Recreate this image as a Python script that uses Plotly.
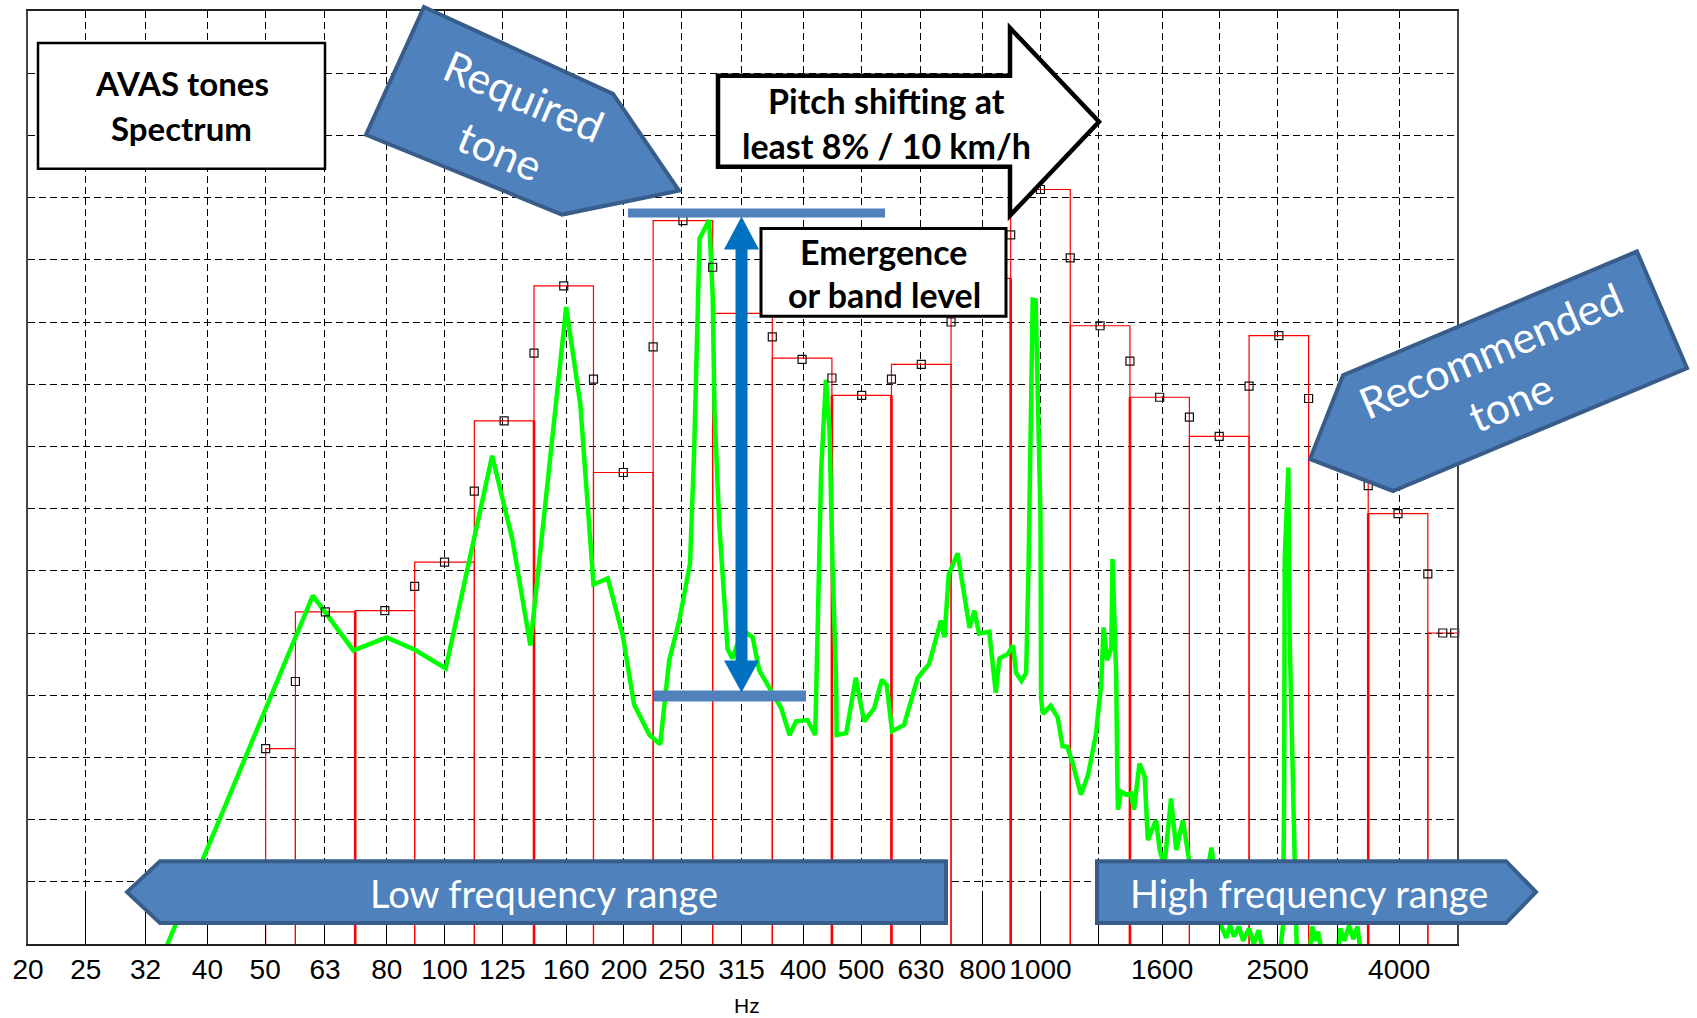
import plotly.graph_objects as go

# ---------------- data ----------------
tick_vals = [20, 25, 31.5, 40, 50, 63, 80, 100, 125, 160, 200, 250, 315, 400, 500,
             630, 800, 1000, 1250, 1600, 2000, 2500, 3150, 4000, 5000]
tick_text = ["20", "25", "32", "40", "50", "63", "80", "100", "125", "160", "200", "250",
             "315", "400", "500", "630", "800", "1000", "", "1600", "", "2500", "", "4000", ""]

# third-octave band outlines (lower edge, upper edge, level in grid units)
band_lo = [50.1, 56.2, 70.8, 89.1, 112.2, 141.3, 177.8, 223.9, 281.8, 354.8, 446.7,
           562.3, 707.9, 891.3, 1122, 1413, 1778, 2239, 2818, 3548, 4467]
band_hi = [56.2, 70.8, 89.1, 112.2, 141.3, 177.8, 223.9, 281.8, 354.8, 446.7, 562.3,
           707.9, 891.3, 1122, 1413, 1778, 2239, 2818, 3548, 4467, 5300]
band_level = [3.14, 5.34, 5.36, 6.14, 8.41, 10.58, 7.58, 11.63, 10.14, 9.42, 8.82,
              9.32, 10.7, 12.13, 9.94, 8.79, 8.16, 9.78, 7.8, 6.92, 5.0]
thick_edges = [70.8, 141.3, 446.7, 562.3, 891.3, 1413, 3548]

# sixth-octave square markers
mark_f = [50.1, 56.2, 63.1, 79.4, 89.1, 100, 112.2, 125.9, 141.3, 158.5, 177.8, 199.5,
          223.9, 251.2, 281.8, 316.2, 354.8, 398.1, 446.7, 501.2, 562.3, 631, 707.9,
          794.3, 891.3, 1000, 1122, 1259, 1413, 1585, 1778, 1995, 2239, 2512, 2818,
          3162, 3548, 3981, 4467, 4732, 4955]
mark_v = [3.14, 4.22, 5.34, 5.36, 5.75, 6.14, 7.28, 8.41, 9.5, 10.58, 9.08, 7.58,
          9.6, 11.63, 10.88, 10.14, 9.76, 9.4, 9.1, 8.82, 9.08, 9.32, 10.0,
          10.7, 11.4, 12.13, 11.03, 9.94, 9.37, 8.79, 8.47, 8.16, 8.97, 9.78, 8.77,
          7.8, 7.37, 6.92, 5.95, 5.0, 5.0]

# narrow-band AVAS spectrum (green)
spec_f = [33.11, 60.12, 70.3, 79.98, 89.13, 100.46, 120.2, 130.0, 139.3, 160.0, 169.0,
          177.8, 187.9, 199.1, 208.0, 220.8, 230.1, 238.2, 247.7, 258.2, 262.4, 267.9,
          278.0, 281.8, 283.8, 289.1, 298.5, 304.1, 316.2, 328.9, 337.3, 353.2, 367.3,
          379.3, 389.0, 406.4, 418.8, 422.7, 428.5, 436.5, 442.6, 447.7, 453.9, 455.0,
          472.1, 489.8, 505.8, 526.0, 542.0, 552.1, 563.6, 590.2, 622.3, 650.1, 680.8,
          690.2, 701.5, 726.1, 760.3, 774.5, 788.9, 820.4, 841.4, 853.1, 881.0, 899.5,
          909.9, 929.0, 946.2, 955.0, 959.4, 966.1, 970.5, 981.7, 986.3, 993.1, 1000,
          1002.3, 1009.3, 1040, 1069, 1089, 1109, 1130, 1169, 1202, 1239, 1265, 1276,
          1294, 1315, 1321, 1330, 1340, 1346, 1349, 1365, 1393, 1419, 1435, 1466, 1496,
          1514, 1563, 1585, 1614, 1656, 1690, 1734, 1766, 1799, 1841, 1884, 1936, 1963,
          1995, 2018, 2051, 2080, 2113, 2153, 2188, 2239, 2280, 2323, 2371, 2512, 2553,
          2564, 2570, 2606, 2618, 2636, 2655, 2673, 2692, 2818, 2858, 2897, 2924, 2985,
          3148, 3184, 3236, 3296, 3350, 3404, 3451, 3548]
spec_v = [-0.35, 5.6, 4.72, 4.93, 4.73, 4.43, 7.85, 6.5, 4.8, 10.24, 8.67,
          5.78, 5.88, 4.96, 3.85, 3.36, 3.21, 4.56, 5.2, 6.12, 7.96, 11.34,
          11.64, 10.42, 8.58, 6.74, 4.74, 4.59, 5.05, 4.93, 4.4, 4.07, 3.79,
          3.36, 3.58, 3.6, 3.36, 5.02, 7.6, 9.07, 8.27, 6.12, 4.28, 3.36,
          3.39, 4.28, 3.58, 3.79, 4.25, 4.16, 3.42, 3.52, 4.28, 4.5, 5.2,
          4.93, 5.94, 6.28, 5.08, 5.36, 4.99, 5.02, 4.04, 4.59, 4.66, 4.8,
          4.36, 4.23, 4.36, 6.09, 7.69, 9.02, 10.36, 10.35, 9.42, 7.95, 6.89,
          3.96, 3.7, 3.83, 3.64, 3.18, 3.17, 2.94, 2.4, 2.72, 3.37, 4.2, 5.09,
          4.56, 4.76, 6.19, 5.23, 4.3, 2.58, 2.16, 2.45, 2.4, 2.42, 2.16, 2.9, 2.69,
          1.67, 1.99, 1.51, 1.25, 2.34, 1.51, 1.99, 1.46, 1.0, 0.6, 0.9, 1.55, 1.1,
          0.4, 0.25, 0.1, 0.3, 0.12, 0.28, 0.05, 0.25, 0.0, 0.22, -0.2, -0.3, 0.3,
          2.5, 6.2, 7.66, 5.0, 3.5, 2.6, 1.2, -0.1, -0.3, 0.28, 0.05, 0.2, -0.3,
          -0.2, 0.25, 0.05, 0.3, 0.08, 0.28, -0.2, -0.4]

# ---------------- layout helpers (pixel -> paper) ----------------
W, H = 1697, 1018
L, R, T, B = 28, 240, 9, 74
PW, PH = W - L - R, H - T - B


def px(x):
    return (x - L) / PW


def py(y):
    return (H - B - y) / PH


def path(points):
    s = "M " + " L ".join(f"{px(x):.5f},{py(y):.5f}" for x, y in points) + " Z"
    return s


fig = go.Figure()

# red band outlines
rx, ry = [], []
for lo, hi, lv in zip(band_lo, band_hi, band_level):
    rx += [lo, lo, hi, hi, None]
    ry += [-1, lv, lv, -1, None]
fig.add_trace(go.Scatter(x=rx, y=ry, mode="lines", line=dict(color="#ff0000", width=1.2),
                         hoverinfo="skip", showlegend=False))

tx, ty = [], []
for e in thick_edges:
    i = band_hi.index(e)
    top = min(band_level[i], band_level[i + 1])
    tx += [e, e, None]
    ty += [-1, top, None]
fig.add_trace(go.Scatter(x=tx, y=ty, mode="lines", line=dict(color="#ff0000", width=2.6),
                         hoverinfo="skip", showlegend=False))

# green spectrum
fig.add_trace(go.Scatter(x=spec_f, y=spec_v, mode="lines",
                         line=dict(color="#00ff00", width=4.5),
                         hoverinfo="skip", showlegend=False))

# square markers
fig.add_trace(go.Scatter(x=mark_f, y=mark_v, mode="markers",
                         marker=dict(symbol="square-open", size=8, color="#111111",
                                     line=dict(width=1.2)),
                         hoverinfo="skip", showlegend=False, cliponaxis=False))

BLUE = "#4F81BD"
BLUE_EDGE = "#385D8A"
shapes = []

# AVAS box
shapes.append(dict(type="rect", xref="paper", yref="paper", x0=px(38), x1=px(325),
                   y0=py(167), y1=py(41), fillcolor="white",
                   line=dict(color="black", width=2.5)))
# Emergence box
shapes.append(dict(type="rect", xref="paper", yref="paper", x0=px(761), x1=px(1006),
                   y0=py(315), y1=py(227), fillcolor="white",
                   line=dict(color="black", width=3)))
# Pitch shifting arrow
shapes.append(dict(type="path", xref="paper", yref="paper",
                   path=path([(718, 74), (1010, 74), (1010, 26), (1099, 120), (1010, 214),
                              (1010, 165), (718, 165)]),
                   fillcolor="white", line=dict(color="black", width=4.5)))
# Required tone pentagon
shapes.append(dict(type="path", xref="paper", yref="paper",
                   path=path([(424, 5), (613, 92), (679, 189), (562, 213), (366, 133)]),
                   fillcolor=BLUE, line=dict(color=BLUE_EDGE, width=4)))
# Recommended tone pentagon
shapes.append(dict(type="path", xref="paper", yref="paper",
                   path=path([(1637, 250), (1687, 367), (1393, 490), (1310, 458), (1343, 374)]),
                   fillcolor=BLUE, line=dict(color=BLUE_EDGE, width=4)))
# Low frequency range arrow
shapes.append(dict(type="path", xref="paper", yref="paper",
                   path=path([(127, 892), (160, 861), (946, 861), (946, 923), (160, 923)]),
                   fillcolor=BLUE, line=dict(color=BLUE_EDGE, width=4)))
# High frequency range arrow
shapes.append(dict(type="path", xref="paper", yref="paper",
                   path=path([(1097, 861), (1506, 861), (1536, 892), (1506, 923), (1097, 923)]),
                   fillcolor=BLUE, line=dict(color=BLUE_EDGE, width=4)))
# emergence bars
shapes.append(dict(type="rect", xref="paper", yref="paper", x0=px(628), x1=px(885),
                   y0=py(216), y1=py(207), fillcolor=BLUE, line=dict(width=0)))
shapes.append(dict(type="rect", xref="paper", yref="paper", x0=px(654), x1=px(806),
                   y0=py(701), y1=py(690), fillcolor=BLUE, line=dict(width=0)))
# double-headed arrow
DARK = "#0070C0"
shapes.append(dict(type="rect", xref="paper", yref="paper", x0=px(735.5), x1=px(747.5),
                   y0=py(662), y1=py(246), fillcolor=DARK, line=dict(width=0)))
shapes.append(dict(type="path", xref="paper", yref="paper",
                   path=path([(724, 248), (759, 248), (741.5, 215)]),
                   fillcolor=DARK, line=dict(width=0)))
shapes.append(dict(type="path", xref="paper", yref="paper",
                   path=path([(724, 660), (759, 660), (741.5, 692)]),
                   fillcolor=DARK, line=dict(width=0)))

ann = []


def text(x, y, s, size, color="black", bold=False, angle=0, family="Lato"):
    ann.append(dict(x=px(x), y=py(y), xref="paper", yref="paper", text=s, showarrow=False,
                    xanchor="center", yanchor="middle", textangle=angle,
                    font=dict(family=family, size=size, color=color,
                              weight="bold" if bold else "normal")))


text(181.5, 81, "AVAS tones", 33, bold=True)
text(181.5, 126, "Spectrum", 33, bold=True)
text(884, 250, "Emergence", 34, bold=True)
text(884, 293, "or band level", 34, bold=True)
text(886, 98.5, "Pitch shifting at", 34, bold=True)
text(886, 144, "least 8% / 10 km/h", 34, bold=True)
text(524, 94, "Required", 43, color="white", angle=23)
text(500, 149, "tone", 43, color="white", angle=23)
text(1490, 349, "Recommended", 43, color="white", angle=-23)
text(1510, 400, "tone", 43, color="white", angle=-23)
text(544, 893, "Low frequency range", 38, color="white")
text(1309, 893, "High frequency range", 38, color="white")
text(747, 1006, "Hz", 21, family="Liberation Sans")

fig.update_layout(
    width=W, height=H, autosize=False,
    margin=dict(l=L, r=R, t=T, b=B, pad=0),
    paper_bgcolor="white", plot_bgcolor="white",
    shapes=shapes, annotations=ann, showlegend=False,
)
fig.update_xaxes(
    type="log", range=[1.30103, 3.69897],
    tickmode="array", tickvals=tick_vals, ticktext=tick_text,
    ticks="inside", ticklen=46, tickwidth=1, tickcolor="black",
    tickfont=dict(family="Liberation Sans", size=28, color="black"),
    showgrid=True, gridcolor="black", gridwidth=1, griddash="7px,4px",
    showline=True, linecolor="#222222", linewidth=1.5, mirror=True,
    zeroline=False,
)
fig.update_yaxes(
    range=[0, 15], tickmode="linear", tick0=0, dtick=1,
    showticklabels=False, ticks="inside", ticklen=5, tickcolor="black",
    showgrid=True, gridcolor="black", gridwidth=1, griddash="7px,4px",
    showline=True, linecolor="#444444", linewidth=1.5, mirror=True,
    zeroline=False,
)

fig.write_html("out.html")
